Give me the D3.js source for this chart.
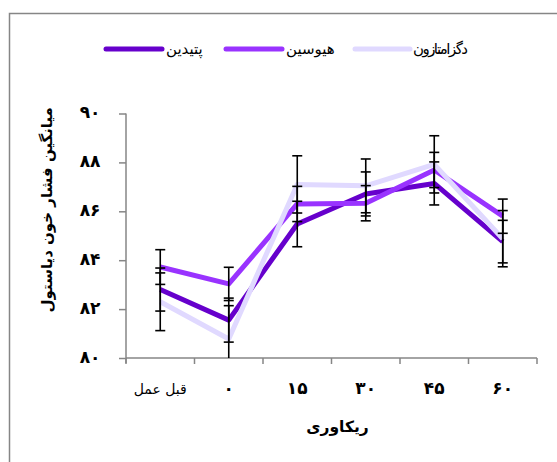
<!DOCTYPE html>
<html>
<head>
<meta charset="utf-8">
<script src="https://cdn.jsdelivr.net/npm/d3@7"></script>
<style>
  html, body { margin: 0; padding: 0; background: #fff; }
  svg { display: block; font-family: "DejaVu Sans", sans-serif; }
</style>
</head>
<body>
<svg id="chart" width="557" height="462"></svg>
<script>
// Recovery time points (Persian labels)
const categories = ["قبل عمل", "۰", "۱۵", "۳۰", "۴۵", "۶۰"];

// Mean diastolic blood pressure per group
const pethidine = [82.8, 81.55, 85.48, 86.71, 87.14, 84.76];
const hyoscine  = [83.72, 83.03, 86.3, 86.33, 87.69, 85.8];
const dexmed    = [82.3, 80.78, 87.1, 87.04, 87.92, 84.88];

// Error bar half-widths per group
const pethidineErr = [0.88, 0.9, 0.93, 0.9, 0.88, 0.87];
const hyoscineErr  = [0.71, 0.68, 0.72, 0.72, 0.72, 0.7];
const dexmedErr    = [1.18, 1.36, 1.17, 1.1, 1.17, 1.15];

const seriesNames = ["پتیدین", "هیوسین", "دگزامتازون"];
const yTicks = [80, 82, 84, 86, 88, 90];
const yTickLabels = ["۸۰", "۸۲", "۸۴", "۸۶", "۸۸", "۹۰"];

const series = [
  { name: seriesNames[0], values: pethidine, err: pethidineErr, color: "#6600CC" },
  { name: seriesNames[1], values: hyoscine,  err: hyoscineErr,  color: "#9933FF" },
  { name: seriesNames[2], values: dexmed,    err: dexmedErr,    color: "#E0D9FF" }
];

const svg = d3.select("#chart");
const axisColor = "#868686";

// Outer chart frame
svg.append("rect")
  .attr("x", 9.5).attr("y", 13.5)
  .attr("width", 600).attr("height", 500)
  .attr("fill", "none").attr("stroke", axisColor).attr("stroke-width", 1.5);

const plot = { left: 126, right: 537, top: 113.5, bottom: 358 };

const x = d3.scaleBand().domain(categories).range([plot.left, plot.right]).padding(0);
const y = d3.scaleLinear().domain([80, 90]).range([plot.bottom, plot.top]);
const cx = c => x(c) + x.bandwidth() / 2;

// Y axis
const yAxis = svg.append("g")
  .attr("transform", `translate(${plot.left},0)`)
  .call(d3.axisLeft(y).tickValues(yTicks)
    .tickFormat((d, i) => yTickLabels[i]).tickSize(7).tickPadding(29));
yAxis.select(".domain").attr("stroke", axisColor).attr("stroke-width", 1.5)
  .attr("d", `M0,${plot.top}V${plot.bottom + 5}`);
yAxis.selectAll(".tick line").attr("stroke", axisColor).attr("stroke-width", 1.5);
yAxis.selectAll(".tick text")
  .attr("font-size", 17).attr("font-weight", "bold")
  .attr("font-family", "DejaVu Sans").attr("fill", "#000")
  .attr("text-anchor", "middle").attr("dy", "0.25em");

// X axis: labels centered in bands, ticks at band edges
const xAxis = svg.append("g")
  .attr("transform", `translate(0,${plot.bottom})`);
xAxis.append("line")
  .attr("x1", plot.left).attr("x2", plot.right)
  .attr("stroke", axisColor).attr("stroke-width", 1.5);
const edges = categories.map(c => x(c)).concat([plot.right]);
xAxis.selectAll("line.tk").data(edges).join("line")
  .attr("class", "tk")
  .attr("x1", d => d).attr("x2", d => d)
  .attr("y1", 0).attr("y2", 6)
  .attr("stroke", axisColor).attr("stroke-width", 1.5);
xAxis.selectAll("text.lbl").data(categories).join("text")
  .attr("class", "lbl")
  .attr("x", d => cx(d)).attr("y", 36)
  .attr("text-anchor", "middle")
  .attr("font-size", (d, i) => i === 0 ? 14 : 17)
  .attr("font-weight", (d, i) => i === 0 ? "normal" : "bold")
  .attr("fill", "#000")
  .text(d => d);

// Axis titles
svg.append("text")
  .attr("x", (plot.left + plot.right) / 2 + 6).attr("y", 432)
  .attr("text-anchor", "middle").attr("font-size", 15.5).attr("font-weight", "bold")
  .text("ریکاوری");

svg.append("text")
  .attr("transform", `translate(52,${(plot.top + plot.bottom) / 2 - 26}) rotate(-90)`)
  .attr("text-anchor", "middle").attr("font-size", 15).attr("font-weight", "bold")
  .text("میانگین فشار خون دیاستول");

// Series lines
const line = d3.line().x((d, i) => cx(categories[i])).y(d => y(d));
svg.append("g").selectAll("path").data(series).join("path")
  .attr("d", s => line(s.values))
  .attr("fill", "none")
  .attr("stroke", s => s.color)
  .attr("stroke-width", 5)
  .attr("stroke-linejoin", "round");

// Error bars
const capHalf = 5;
const eb = svg.append("g").attr("stroke", "#000").attr("stroke-width", 1.6);
series.forEach(s => {
  s.values.forEach((v, i) => {
    const px = cx(categories[i]);
    const lo = Math.max(y.domain()[0], v - s.err[i]);
    const hi = v + s.err[i];
    eb.append("line").attr("x1", px).attr("x2", px)
      .attr("y1", y(lo)).attr("y2", y(hi));
    [v - s.err[i], hi].forEach(e => {
      if (e >= y.domain()[0]) {
        eb.append("line").attr("x1", px - capHalf).attr("x2", px + capHalf)
          .attr("y1", y(e)).attr("y2", y(e));
      }
    });
  });
});

// Legend
const legendItems = [
  { x1: 106, x2: 162, tx: 166 },
  { x1: 226, x2: 282, tx: 286 },
  { x1: 355, x2: 410, tx: 413 }
];
const lg = svg.append("g");
series.forEach((s, i) => {
  const it = legendItems[i];
  lg.append("line").attr("x1", it.x1).attr("x2", it.x2)
    .attr("y1", 49).attr("y2", 49)
    .attr("stroke", s.color).attr("stroke-width", 5).attr("stroke-linecap", "round");
  lg.append("text").attr("x", it.tx).attr("y", 54)
    .attr("font-size", 15).attr("text-anchor", "start")
    .attr("textLength", i === 2 ? 55 : null)
    .text(s.name);
});
</script>
</body>
</html>
